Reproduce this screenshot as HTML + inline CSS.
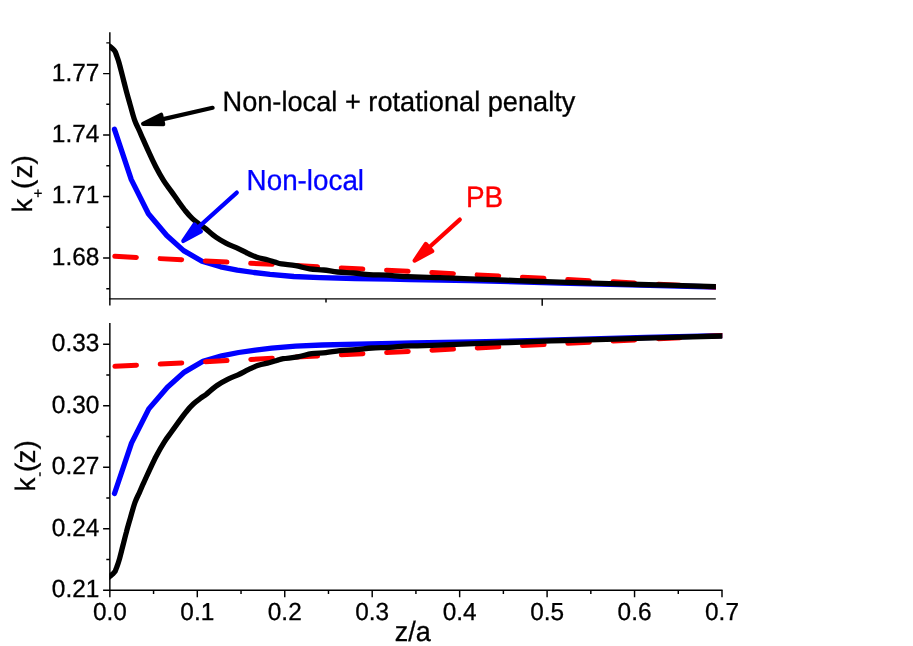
<!DOCTYPE html>
<html><head><meta charset="utf-8"><title>k(z) profiles</title>
<style>
html,body{margin:0;padding:0;background:#fff;}
body{width:913px;height:646px;overflow:hidden;}
svg{display:block;}
text{font-family:"Liberation Sans",sans-serif;fill:#000;stroke:#000;stroke-width:0.3px;text-rendering:geometricPrecision;}
svg{will-change:transform;}
.tick{font-size:24.4px;}
.ax{stroke:#000;stroke-width:1.45;fill:none;}
.ann{font-size:27.2px;}
.lab{font-size:29px;}
.crv{fill:none;stroke-linejoin:round;stroke-linecap:round;}
</style></head><body>
<svg width="913" height="646" viewBox="0 0 913 646">
<rect x="0" y="0" width="913" height="646" fill="#fff"/>
<defs><clipPath id="clt"><rect x="109.3" y="0" width="606.6" height="310"/></clipPath><clipPath id="clb"><rect x="109.3" y="310" width="613" height="336"/></clipPath></defs>
<g class="ax">
<path d="M109.85,32.2 V305.5"/>
<path d="M109.14999999999999,298.85 H715.8"/>
<path d="M326,298.85 V302.6 M542.2,298.85 V305.7"/>
<path d="M103.1,73.60 H109.85 M103.1,135.05 H109.85 M103.1,196.50 H109.85 M103.1,257.95 H109.85 M106.3,42.87 H109.85 M106.3,104.32 H109.85 M106.3,165.78 H109.85 M106.3,227.23 H109.85 M106.3,288.68 H109.85 "/>
<path d="M109.85,322.9 V597.3"/>
<path d="M103.1,590.2 H722.6"/>
<path d="M197.30,590.2 V597.2 M284.75,590.2 V597.2 M372.20,590.2 V597.2 M459.65,590.2 V597.2 M547.10,590.2 V597.2 M634.55,590.2 V597.2 M722.00,590.2 V597.2 M153.57,590.2 V594.1 M241.03,590.2 V594.1 M328.48,590.2 V594.1 M415.92,590.2 V594.1 M503.38,590.2 V594.1 M590.83,590.2 V594.1 M678.28,590.2 V594.1 M103.1,528.70 H109.85 M103.1,467.20 H109.85 M103.1,405.70 H109.85 M103.1,344.20 H109.85 M106.3,559.45 H109.85 M106.3,497.95 H109.85 M106.3,436.45 H109.85 M106.3,374.95 H109.85 "/>
</g>
<text class="tick" text-anchor="end" transform="translate(99.30,80.50) scale(1,1.02)">1.77</text>
<text class="tick" text-anchor="end" transform="translate(99.30,141.95) scale(1,1.02)">1.74</text>
<text class="tick" text-anchor="end" transform="translate(99.30,203.40) scale(1,1.02)">1.71</text>
<text class="tick" text-anchor="end" transform="translate(99.30,264.85) scale(1,1.02)">1.68</text>
<text class="tick" text-anchor="end" transform="translate(99.30,597.10) scale(1,1.02)">0.21</text>
<text class="tick" text-anchor="end" transform="translate(99.30,535.60) scale(1,1.02)">0.24</text>
<text class="tick" text-anchor="end" transform="translate(99.30,474.10) scale(1,1.02)">0.27</text>
<text class="tick" text-anchor="end" transform="translate(99.30,412.60) scale(1,1.02)">0.30</text>
<text class="tick" text-anchor="end" transform="translate(99.30,351.10) scale(1,1.02)">0.33</text>
<text class="tick" text-anchor="middle" transform="translate(109.85,620.10) scale(1,1.01)">0.0</text>
<text class="tick" text-anchor="middle" transform="translate(197.30,620.10) scale(1,1.01)">0.1</text>
<text class="tick" text-anchor="middle" transform="translate(284.75,620.10) scale(1,1.01)">0.2</text>
<text class="tick" text-anchor="middle" transform="translate(372.20,620.10) scale(1,1.01)">0.3</text>
<text class="tick" text-anchor="middle" transform="translate(459.65,620.10) scale(1,1.01)">0.4</text>
<text class="tick" text-anchor="middle" transform="translate(547.10,620.10) scale(1,1.01)">0.5</text>
<text class="tick" text-anchor="middle" transform="translate(634.55,620.10) scale(1,1.01)">0.6</text>
<text class="tick" text-anchor="middle" transform="translate(722.00,620.10) scale(1,1.01)">0.7</text>
<g clip-path="url(#clt)">
<polyline class="crv" stroke="#0000ff" stroke-width="5.3" points="114.5,129.3 131.3,179.6 148.4,213.8 166.8,235.5 183.6,250.6 202.0,261.3 220.6,266.8 237.3,270.1 254.0,272.5 270.0,274.4 293.8,276.5 320.1,277.6 355.2,278.5 390.2,279.2 410.0,279.6 470.0,280.6 560.0,283.0 640.0,285.1 715.5,287.0 719.0,287.1"/>
<polyline class="crv" stroke="#ff0000" stroke-width="5.0" stroke-dasharray="21.6 23.75" points="114.8,256.3 719.5,287.3"/>
<path class="crv" stroke="#000" stroke-width="5.3" stroke-linecap="butt" d="M106.5,44.0 C107.0,44.4 108.8,45.6 109.8,46.4 C110.8,47.2 111.7,48.0 112.6,48.8 C113.5,49.6 114.3,50.3 115.0,51.4 C115.7,52.5 115.9,53.6 116.6,55.5 C117.3,57.4 118.1,59.4 119.1,62.9 C120.1,66.5 121.5,72.2 122.7,76.8 C123.9,81.4 125.0,86.1 126.2,90.7 C127.4,95.3 128.7,99.6 130.1,104.6 C131.5,109.5 133.2,116.2 134.7,120.4 C136.2,124.6 137.6,126.9 139.0,130.0 C140.4,133.1 141.2,135.1 142.9,138.9 C144.6,142.7 147.0,148.2 149.2,152.9 C151.3,157.6 153.4,162.1 155.8,166.8 C158.2,171.5 161.2,176.8 163.8,180.9 C166.4,185.0 168.9,188.0 171.3,191.4 C173.8,194.8 176.1,198.3 178.5,201.6 C180.9,204.9 183.2,208.2 185.5,211.0 C187.8,213.8 190.1,216.5 192.4,218.7 C194.7,220.9 197.2,222.7 199.4,224.3 C201.6,226.0 202.8,226.4 205.5,228.6 C208.2,230.8 212.4,234.7 215.9,237.2 C219.4,239.7 222.9,241.6 226.4,243.4 C229.9,245.2 233.3,246.3 236.8,247.9 C240.3,249.5 244.0,251.6 247.3,253.2 C250.6,254.8 253.5,256.2 256.8,257.3 C260.1,258.4 264.3,259.0 267.3,259.8 C270.3,260.6 272.6,261.4 275.0,262.1 C277.4,262.8 278.1,263.3 281.5,263.9 C284.9,264.5 290.9,264.9 295.6,265.7 C300.3,266.5 304.9,268.2 309.6,268.9 C314.3,269.6 318.9,269.5 323.6,270.0 C328.3,270.5 332.6,271.5 337.6,272.0 C342.6,272.5 348.1,272.6 353.4,273.0 C358.7,273.4 363.6,274.2 369.2,274.6 C374.8,275.0 381.4,274.9 386.7,275.2 C391.9,275.5 396.1,276.1 400.7,276.4 C405.2,276.7 407.4,276.6 414.0,276.8 C420.6,277.0 430.6,277.4 440.0,277.7 C449.4,278.0 459.2,278.5 470.1,278.9 C481.0,279.3 493.5,279.7 505.2,280.1 C516.9,280.5 531.1,281.2 540.2,281.5 C549.3,281.8 543.4,281.6 560.0,282.1 C576.6,282.6 614.1,283.8 640.0,284.5 C665.9,285.2 702.3,286.2 715.5,286.6 C728.7,287.0 718.4,286.7 719.0,286.7"/>
</g>
<g clip-path="url(#clb)">
<polyline class="crv" stroke="#0000ff" stroke-width="5.3" points="114.5,493.5 131.5,443.1 148.8,408.9 167.4,387.2 184.4,372.1 203.0,361.3 221.8,355.8 238.6,352.5 255.5,350.1 271.7,348.2 295.7,346.1 322.3,345.0 357.8,344.1 393.2,343.4 413.2,343.0 473.8,342.0 564.8,339.6 645.6,337.5 721.9,335.6 725.4,335.5"/>
<polyline class="crv" stroke="#ff0000" stroke-width="5.0" stroke-dasharray="21.6 23.75" points="114.9,366.3 725.9,335.3"/>
<path class="crv" stroke="#000" stroke-width="5.3" stroke-linecap="butt" d="M106.5,578.8 C107.0,578.4 108.8,577.2 109.8,576.4 C110.8,575.6 111.8,574.9 112.6,574.0 C113.5,573.2 114.4,572.5 115.1,571.4 C115.7,570.3 116.0,569.2 116.7,567.3 C117.4,565.4 118.2,563.5 119.2,559.9 C120.2,556.4 121.6,550.6 122.8,546.0 C124.0,541.4 125.1,536.7 126.4,532.1 C127.6,527.4 128.9,523.1 130.3,518.2 C131.7,513.2 133.5,506.6 135.0,502.4 C136.5,498.1 137.9,495.8 139.3,492.8 C140.7,489.7 141.5,487.7 143.2,483.8 C145.0,480.0 147.4,474.5 149.6,469.8 C151.8,465.2 153.8,460.6 156.3,455.9 C158.7,451.3 161.8,445.9 164.4,441.8 C167.0,437.7 169.5,434.8 171.9,431.3 C174.4,427.8 176.8,424.4 179.2,421.1 C181.6,417.8 184.0,414.5 186.3,411.7 C188.6,408.8 190.9,406.2 193.3,404.0 C195.6,401.8 198.1,400.0 200.3,398.4 C202.6,396.7 203.7,396.2 206.5,394.1 C209.3,391.9 213.5,387.9 217.0,385.5 C220.5,383.0 224.1,381.0 227.6,379.3 C231.2,377.5 234.6,376.4 238.1,374.8 C241.7,373.1 245.4,371.0 248.8,369.4 C252.1,367.9 255.0,366.4 258.4,365.3 C261.7,364.2 265.9,363.6 269.0,362.8 C272.0,362.0 274.4,361.2 276.7,360.5 C279.1,359.9 279.8,359.3 283.3,358.7 C286.8,358.1 292.8,357.8 297.6,356.9 C302.3,356.1 307.0,354.5 311.7,353.7 C316.4,353.0 321.1,353.2 325.9,352.6 C330.6,352.1 335.0,351.1 340.0,350.6 C345.0,350.1 350.7,350.1 356.0,349.6 C361.3,349.2 366.3,348.4 371.9,348.0 C377.5,347.7 384.3,347.7 389.6,347.4 C394.9,347.1 399.2,346.5 403.8,346.2 C408.4,346.0 410.6,346.0 417.2,345.8 C423.8,345.6 434.0,345.3 443.5,344.9 C452.9,344.6 462.9,344.1 473.9,343.7 C484.9,343.3 497.6,343.0 509.4,342.5 C521.2,342.1 535.5,341.5 544.7,341.1 C554.0,340.8 547.9,341.0 564.8,340.5 C581.6,340.0 619.4,338.9 645.6,338.1 C671.8,337.4 708.6,336.4 721.9,336.0 C735.2,335.7 724.8,335.9 725.4,335.9"/>
</g>
<line x1="212.6" y1="107.8" x2="162.1" y2="119.4" stroke="#000" stroke-width="4.2" stroke-linecap="round"/>
<polygon points="143.1,123.8 161.1,114.8 163.2,124.1" fill="#000" stroke="#000" stroke-width="4.2" stroke-linejoin="round"/>
<line x1="236.8" y1="192.6" x2="197.7" y2="227.9" stroke="#0000ff" stroke-width="4.2" stroke-linecap="round"/>
<polygon points="183.3,241.0 194.5,224.4 200.9,231.5" fill="#0000ff" stroke="#0000ff" stroke-width="4.2" stroke-linejoin="round"/>
<line x1="459.8" y1="219.6" x2="429.0" y2="247.5" stroke="#ff0000" stroke-width="4.2" stroke-linecap="round"/>
<polygon points="414.6,260.6 425.8,243.9 432.2,251.1" fill="#ff0000" stroke="#ff0000" stroke-width="4.2" stroke-linejoin="round"/>
<text class="ann" text-anchor="start" transform="translate(222.50,110.80) scale(1,1.03)">Non-local + rotational penalty</text>
<text class="ann" text-anchor="start" transform="translate(246.60,190.00) scale(1,1.04)" style="fill:#0000ff;stroke:#0000ff;font-size:27.8px">Non-local</text>
<text class="ann" text-anchor="start" transform="translate(465.90,206.70) scale(1,1.055)" style="fill:#ff0000;stroke:#ff0000;font-size:27.9px">PB</text>
<text class="lab" style="font-size:27px" text-anchor="middle" transform="translate(412.7,640.8) scale(1,1.04)">z/a</text>
<text class="lab" transform="translate(31.8,212.5) rotate(-90)" style="font-size:28px">k<tspan font-size="15" dy="11.1" dx="0.7">+</tspan><tspan dy="-11.1">(</tspan><tspan dx="1.3">z)</tspan></text>
<text class="lab" transform="translate(34.9,491.6) rotate(-90)" style="font-size:28px">k<tspan font-size="15" dy="9.5" dx="0.9">-</tspan><tspan dy="-9.5" dx="-0.2">(</tspan><tspan dx="-1">z)</tspan></text>
</svg></body></html>
